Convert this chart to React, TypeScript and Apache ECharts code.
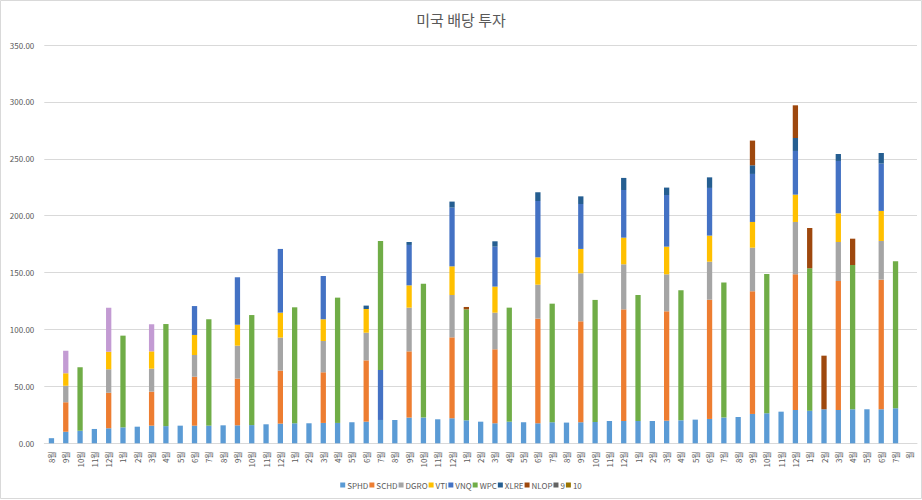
import React, { useEffect, useRef } from "react";
import * as echarts from "echarts";

const _ = null;

const categories = [
  "8월", "9월", "10월", "11월", "12월", "1월", "2월", "3월", "4월", "5월", "6월", "7월",
  "8월", "9월", "10월", "11월", "12월", "1월", "2월", "3월", "4월", "5월", "6월", "7월",
  "8월", "9월", "10월", "11월", "12월", "1월", "2월", "3월", "4월", "5월", "6월", "7월",
  "8월", "9월", "10월", "11월", "12월", "1월", "2월", "3월", "4월", "5월", "6월", "7월",
  "8월", "9월", "10월", "11월", "12월", "1월", "2월", "3월", "4월", "5월", "6월", "7월",
  "월",
];

const SPHD = [
  4.5, 10.2, 11.1, 12.6, 13.2, 14, 14.6, 15.5, 15.1, 15.5,
  15.5, 15.5, 15.8, 15.8, 16, 16.7, 17.3, 17.6, 17.6, 17.9,
  17.9, 18.5, 19, 20.5, 20.5, 22.6, 22.6, 21.1, 22, 20.2,
  19, 17.6, 19, 18.5, 17.6, 18.5, 18.2, 18.5, 18.7, 19.6,
  19.6, 19.6, 19.6, 19.9, 20.2, 20.8, 21.4, 22.6, 23.1, 25.8,
  26.4, 27.8, 29.3, 28.7, 29.9, 29.3, 29.9, 29.9, 29.9, 30.8,
  _,
];

const SCHD = [
  _, 25.8, _, _, 31.3, _, _, 29.9, _, _,
  43, _, _, 41, _, _, 46.6, _, _, 44.5,
  _, _, 53.9, _, _, 58.2, _, _, 71.1, _,
  _, 65, _, _, 91.9, _, _, 88.7, _, _,
  98.1, _, _, 96.1, _, _, 104.8, _, _, 107.8,
  _, _, 119.2, _, _, 113.3, _, _, 113.9, _,
  _,
];

const DGRO = [
  _, 14.6, _, _, 20.5, _, _, 20.2, _, _,
  19.1, _, _, 29, _, _, 29, _, _, 27.5,
  _, _, 24.3, _, _, 38.4, _, _, 37.2, _,
  _, 32.2, _, _, 29.9, _, _, 42.2, _, _,
  39.6, _, _, 32.5, _, _, 33.4, _, _, 38.3,
  _, _, 46, _, _, 34.3, _, _, 34, _,
  _,
];

const VTI = [
  _, 10.9, _, _, 15.5, _, _, 15.2, _, _,
  17.6, _, _, 18.4, _, _, 21.9, _, _, 19.1,
  _, _, 20.8, _, _, 19.6, _, _, 25.2, _,
  _, 22.9, _, _, 24, _, _, 21.4, _, _,
  23.4, _, _, 24.3, _, _, 22.9, _, _, 22.6,
  _, _, 24, _, _, 25.2, _, _, 26.4, _,
  _,
];

const VNQ = [
  _, 19.9, _, _, 38.7, _, _, 23.8, _, _,
  25.4, _, _, 41.7, _, _, 56, _, _, 38,
  _, _, _, 43.9, _, 35.5, _, _, 51.6, _,
  _, 35.1, _, _, 49.5, _, _, 39.5, _, _,
  41.9, _, _, 45.4, _, _, 41.9, _, _, 42.2,
  _, _, 38.4, _, _, 46, _, _, 41.6, _,
  _,
];
// months where the VNQ segment is drawn in purple
const VNQ_PURPLE_IDX = [1, 4, 7];

const WPC = [
  _, _, 55.7, _, _, 80.6, _, _, 89.7, _,
  _, 93.5, _, _, 96.7, _, _, 101.9, _, _,
  110.1, _, _, 113.4, _, _, 117.7, _, _, 97.5,
  _, _, 100.2, _, _, 104.2, _, _, 107.3, _,
  _, 110.7, _, _, 114.2, _, _, 118.6, _, _,
  122.4, _, _, 125.1, _, _, 126.8, _, _, 129.1,
  _,
];

const XLRE = [
  _, _, _, _, _, _, _, _, _, _,
  _, _, _, _, _, _, _, _, _, _,
  _, _, 3, _, _, 2.6, _, _, 5.3, _,
  _, 4.7, _, _, 7.7, _, _, 6.7, _, _,
  10.6, _, _, 6.5, _, _, 9.3, _, _, 7.6,
  _, _, 11.4, _, _, 6.1, _, _, 9.3, _,
  _,
];

const NLOP = [
  _, _, _, _, _, _, _, _, _, _,
  _, _, _, _, _, _, _, _, _, _,
  _, _, _, _, _, _, _, _, _, 2.1,
  _, _, _, _, _, _, _, _, _, _,
  _, _, _, _, _, _, _, _, _, 21.7,
  _, _, 28.7, 35.4, 47.1, _, 23.1, _, _, _,
  _,
];

const S9: (number | null)[] = [];
const S10: (number | null)[] = [];

const seriesNames = ["SPHD", "SCHD", "DGRO", "VTI", "VNQ", "WPC", "XLRE", "NLOP", "9", "10"];
const seriesData = [SPHD, SCHD, DGRO, VTI, VNQ, WPC, XLRE, NLOP, S9, S10];
const colors = [
  "#5B9BD5", "#ED7D31", "#A5A5A5", "#FFC000", "#4472C4",
  "#70AD47", "#255E91", "#9E480E", "#636363", "#997300",
];
const purple = "#C39BD3";

const yTicks = { min: 0, max: 350, interval: 50 };

const FONT = "'Noto Sans CJK KR', 'Noto Sans', sans-serif";
const TXT = "#595959";

export default function App() {
  const ref = useRef<HTMLDivElement>(null);

  useEffect(() => {
    if (!ref.current) return;
    const chart = echarts.init(ref.current, undefined, { renderer: "svg" });

    const series = seriesNames.map((name, i) => {
      const raw = seriesData[i];
      const data =
        name === "VNQ"
          ? raw.map((v, idx) =>
              VNQ_PURPLE_IDX.includes(idx) && v != null
                ? { value: v, itemStyle: { color: purple } }
                : v
            )
          : raw;
      return {
        name,
        type: "bar",
        stack: "total",
        barWidth: "37%",
        data,
        itemStyle: { color: colors[i] },
      };
    });

    chart.setOption({
      animation: false,
      backgroundColor: "#ffffff",
      textStyle: { fontFamily: FONT },
      title: {
        text: "미국 배당 투자",
        left: "center",
        top: 7,
        textStyle: { fontFamily: FONT, fontSize: 15, fontWeight: "normal", color: TXT },
      },
      legend: {
        data: seriesNames,
        bottom: 6,
        left: "center",
        itemWidth: 5,
        itemHeight: 5,
        itemGap: 1,
        icon: "rect",
        textStyle: { fontFamily: FONT, fontSize: 8, color: TXT, padding: [0, 0, 0, -3] },
      },
      grid: { left: 44.3, right: 5, top: 45, bottom: 56.7 },
      xAxis: {
        type: "category",
        data: categories,
        axisLine: { show: true, lineStyle: { color: "#D9D9D9" } },
        axisTick: { show: false },
        axisLabel: {
          interval: 0,
          rotate: 90,
          fontSize: 8,
          color: TXT,
          fontFamily: FONT,
          margin: 8,
        },
      },
      yAxis: {
        type: "value",
        min: yTicks.min,
        max: yTicks.max,
        interval: yTicks.interval,
        axisLine: { show: false },
        axisTick: { show: false },
        splitLine: { lineStyle: { color: "#D9D9D9" } },
        axisLabel: {
          fontSize: 8,
          color: TXT,
          fontFamily: FONT,
          margin: 10,
          formatter: (v: number) => v.toFixed(2),
        },
      },
      graphic: [
        {
          type: "rect",
          shape: { x: 0.5, y: 0.5, width: 921, height: 498 },
          style: { fill: "none", stroke: "#D9D9D9", lineWidth: 1 },
          silent: true,
        },
      ],
      series,
    });

    return () => chart.dispose();
  }, []);

  return (
    <div
      ref={ref}
      style={{ position: "fixed", left: 0, top: 0, width: 922, height: 500 }}
    />
  );
}
